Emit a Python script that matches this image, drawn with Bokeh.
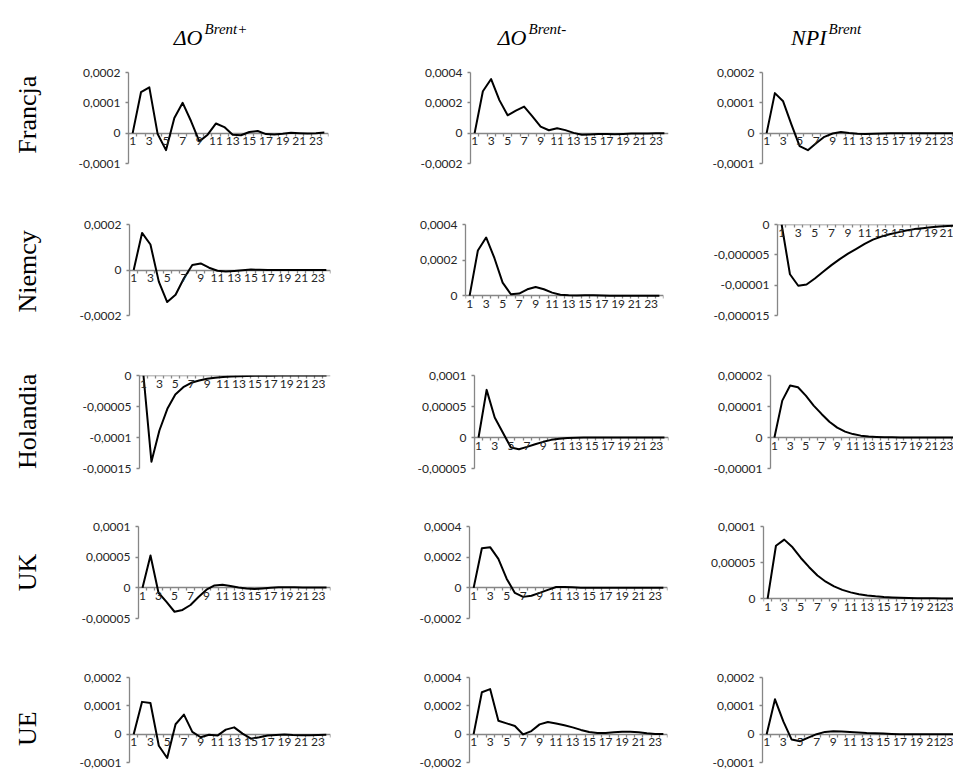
import math
from bokeh.plotting import figure
from bokeh.layouts import column, row
from bokeh.models import Range1d, LinearAxis, FixedTicker, CustomJSTickFormatter
from bokeh.embed import file_html
from bokeh.resources import INLINE
from bokeh.core.properties import value

# ---------------- data ----------------
periods = list(range(1, 25))
x_labels = [k for k in periods if k % 2 == 1]

countries = ["Francja", "Niemcy", "Holandia", "UK", "UE"]
shock_base = ["ΔO", "ΔO", "NPI"]
shock_sup = ["Brent+", "Brent-", "Brent"]

fr_dop = [0, 0.000135, 0.000151, -0.000003, -0.000056, 0.00005, 0.0001, 0.00004,
          -0.000027, -0.000005, 0.000032, 0.00002, -0.000005, -0.000007, 0.000004,
          0.000007, -0.000003, -0.000004, -0.000002, 0.000001, 0, -0.000001, 0, 0.000002]
fr_dom = [0, 0.000276, 0.000357, 0.000218, 0.000118, 0.000148, 0.000175, 0.000111,
          0.000043, 0.000019, 0.000032, 0.00002, 0.000002, -0.00001, -0.000008,
          -0.000005, -0.000006, -0.000007, -0.000005, -0.000003, -0.000002, -0.000002,
          -0.000001, -0.000001]
fr_npi = [0, 0.000132, 0.000105, 0.000029, -0.000043, -0.000056, -0.000033, -0.000012,
          -0.000001, 0.000004, 0.0000005, -0.000002, -0.000003, -0.000002, -0.000001,
          0, 0, 0, 0, 0, 0, 0, 0, 0]

de_dop = [0, 0.000163, 0.000112, -0.000051, -0.000141, -0.000109, -0.000036, 0.000022,
          0.000029, 0.00001, -0.000003, -0.000007, -0.000004, -0.000001, 0.000002,
          0.000001, 0, 0, 0, 0, 0, 0, 0, 0]
de_dom = [0, 0.000254, 0.000327, 0.000212, 0.000073, 0.000008, 0.000012, 0.000036,
          0.000049, 0.000036, 0.000017, 0.000005, 0.000002, 0.000001, 0.000002,
          0.000002, 0.000001, 0, 0, 0, 0, 0, 0, 0]
de_npi = [0, -0.0000082, -0.0000101, -0.0000099, -0.0000089, -0.0000078, -0.0000067,
          -0.0000057, -0.0000048, -0.000004, -0.0000032, -0.0000025, -0.000002,
          -0.0000016, -0.0000013, -0.000001, -0.00000076, -0.0000006, -0.00000045,
          -0.00000033, -0.00000025, -0.00000018, -0.00000013, -0.0000001]

nl_dop = [0, -0.000139, -0.0000887, -0.0000538, -0.0000306, -0.0000188, -0.0000118,
          -0.000008, -0.0000054, -0.0000038, -0.0000026, -0.0000018, -0.0000012,
          -0.0000008, -0.0000006, -0.0000004, -0.0000003, -0.0000002, -0.00000015,
          -0.0000001, -0.0000001, -0.00000005, -0.00000005, -0.00000005]
nl_dom = [0, 0.0000768, 0.0000324, 0.0000081, -0.0000162, -0.0000189, -0.0000151,
          -0.0000108, -0.000007, -0.0000038, -0.0000022, -0.000001, -0.0000005,
          -0.0000002, -0.0000001, 0, 0, 0, 0, 0, 0, 0, 0, 0]
nl_npi = [0, 0.0000119, 0.0000168, 0.0000162, 0.0000135, 0.0000103, 0.0000076,
          0.0000051, 0.0000032, 0.0000019, 0.0000011, 0.0000006, 0.0000003,
          0.0000002, 0.0000001, 0.0000001, 0, 0, 0, 0, 0, 0, 0, 0]

uk_dop = [0, 0.0000527, -0.000008, -0.000023, -0.000039, -0.000036, -0.000028,
          -0.000015, -0.000003, 0.000004, 0.000005, 0.000003, 0.0000005, -0.000001,
          -0.000002, -0.000001, 0, 0.000001, 0.000001, 0.000001, 0.0000005,
          0.0000005, 0.0000005, 0.0000005]
uk_dom = [0, 0.000258, 0.000265, 0.000189, 0.00006, -0.000033, -0.000059, -0.000052,
          -0.000033, -0.000013, 0.000005, 0.000005, 0.000003, 0.000001, 0, 0, 0, 0,
          0, 0, 0, 0, 0, 0]
uk_npi = [0, 0.0000733, 0.0000818, 0.0000712, 0.0000564, 0.0000436, 0.000032,
          0.0000235, 0.000017, 0.0000122, 0.0000087, 0.0000062, 0.0000045,
          0.0000032, 0.0000023, 0.0000017, 0.0000012, 0.0000009, 0.0000006,
          0.0000005, 0.0000004, 0.0000003, 0.0000002, 0.0000002]

ue_dop = [0, 0.000114, 0.00011, -0.000041, -0.000084, 0.000035, 0.000069, 0.000008,
          -0.000011, -0.000002, -0.000005, 0.000016, 0.000024, 0.000002, -0.000016,
          -0.000011, -0.000005, -0.000003, -0.000001, -0.000003, -0.000004,
          -0.000004, -0.000003, -0.000002]
ue_dom = [0, 0.000296, 0.000318, 0.000095, 0.000076, 0.000058, -0.000002, 0.000022,
          0.000069, 0.000086, 0.000076, 0.000063, 0.000048, 0.00003, 0.000015,
          0.000009, 0.000009, 0.000013, 0.000017, 0.000017, 0.000013, 0.000006,
          0.000002, 0.000001]
ue_npi = [0, 0.000123, 0.000045, -0.000019, -0.000025, -0.000012, 0, 0.000008,
          0.00001, 0.000009, 0.000008, 0.000006, 0.000004, 0.000003, 0.000002,
          0.000001, 0, 0, 0, 0, 0, 0, 0, 0]

# y tick values of each panel (row = country, column = shock)
ticks_fr_dop = [-0.0001, 0, 0.0001, 0.0002]
ticks_fr_dom = [-0.0002, 0, 0.0002, 0.0004]
ticks_fr_npi = [-0.0001, 0, 0.0001, 0.0002]
ticks_de_dop = [-0.0002, 0, 0.0002]
ticks_de_dom = [0, 0.0002, 0.0004]
ticks_de_npi = [-0.000015, -0.00001, -0.000005, 0]
ticks_nl_dop = [-0.00015, -0.0001, -0.00005, 0]
ticks_nl_dom = [-0.00005, 0, 0.00005, 0.0001]
ticks_nl_npi = [-0.00001, 0, 0.00001, 0.00002]
ticks_uk_dop = [-0.00005, 0, 0.00005, 0.0001]
ticks_uk_dom = [-0.0002, 0, 0.0002, 0.0004]
ticks_uk_npi = [0, 0.00005, 0.0001]
ticks_ue_dop = [-0.0001, 0, 0.0001, 0.0002]
ticks_ue_dom = [-0.0002, 0, 0.0002, 0.0004]
ticks_ue_npi = [-0.0001, 0, 0.0001, 0.0002]

series = [[fr_dop, fr_dom, fr_npi], [de_dop, de_dom, de_npi], [nl_dop, nl_dom, nl_npi],
          [uk_dop, uk_dom, uk_npi], [ue_dop, ue_dom, ue_npi]]
yticks = [[ticks_fr_dop, ticks_fr_dom, ticks_fr_npi], [ticks_de_dop, ticks_de_dom, ticks_de_npi],
          [ticks_nl_dop, ticks_nl_dom, ticks_nl_npi], [ticks_uk_dop, ticks_uk_dom, ticks_uk_npi],
          [ticks_ue_dop, ticks_ue_dom, ticks_ue_npi]]

# ---------------- layout (pixel coordinates of the page) ----------------
COL_EDGES = [0, 60, 400, 700, 953]
ROW_EDGES = [0, 50, 190, 345, 497, 645, 771]
# (axis x, px per period, frame top, frame bottom)
GEOM = {
    (0, 0): (128, 8.33, 72, 163), (0, 1): (470, 8.23, 72, 164), (0, 2): (762, 8.25, 72, 163),
    (1, 0): (129, 8.36, 223, 315), (1, 1): (465, 8.25, 224, 303), (1, 2): (777, 8.3, 224, 316),
    (2, 0): (139, 7.96, 375, 468), (2, 1): (474, 8.1, 375, 468), (2, 2): (770, 7.85, 375, 468),
    (3, 0): (138, 8.0, 526, 618), (3, 1): (469, 8.25, 526, 618), (3, 2): (763, 8.3, 526, 606),
    (4, 0): (129, 8.36, 677, 762), (4, 1): (469, 8.25, 677, 762), (4, 2): (762, 8.33, 677, 762),
}
LABEL_PAD = 22          # room for category labels under a frame whose bottom is 0
LABEL_CY = [115, 270, 420, 571, 721]
LABEL_CX = 27
TITLE_X = [202, 526, 826]
TITLE_Y, SUP_Y = 37, 28

GRAY = "#868686"
TXT = "#262626"
TICK_FONT = "Lato"
SERIF = "Liberation Serif"

y_fmt = CustomJSTickFormatter(code="return tick == 0 ? '0' : tick.toString().replace('.', ',');")
x_fmt = CustomJSTickFormatter(code="return String(tick);")
blank_fmt = CustomJSTickFormatter(code="return '';")


def base_fig(width, height, xr, yr, **kw):
    p = figure(width=width, height=height, x_range=xr, y_range=yr, title=None,
               x_axis_type=None, y_axis_type=None, toolbar_location=None,
               output_backend="svg", **kw)
    p.outline_line_color = None
    p.background_fill_color = None
    p.border_fill_color = None
    return p


def panel(r, c):
    ax_x, sp, ft, fb = GEOM[(r, c)]
    cl, cr = COL_EDGES[c + 1], COL_EDGES[c + 2]
    rt, rb = ROW_EDGES[r + 1], ROW_EDGES[r + 2]
    fr = min(ax_x + len(periods) * sp, cr)
    x0 = periods[0] - 0.5
    x1 = x0 + (fr - ax_x) / sp
    yt = yticks[r][c]
    y0, y1 = min(yt), max(yt)
    if y0 == 0:
        # extend the frame below 0 so that the category labels stay inside it
        y0 = -LABEL_PAD * (y1 - y0) / (fb - ft)
        fb = fb + LABEL_PAD
    p = base_fig(cr - cl, rb - rt, Range1d(x0, x1), Range1d(y0, y1),
                 min_border_left=int(round(ax_x - cl)), min_border_right=int(round(cr - fr)),
                 min_border_top=int(ft - rt), min_border_bottom=int(rb - fb))

    # value axis: at the left edge of the plot frame
    yax = LinearAxis(ticker=FixedTicker(ticks=yt), formatter=y_fmt, bounds=(min(yt), max(yt)),
                     axis_line_color=GRAY, axis_line_width=1.3,
                     major_tick_line_color=GRAY, major_tick_line_width=1.3,
                     major_tick_out=3, major_tick_in=0, minor_tick_line_color=None,
                     major_label_text_font=TICK_FONT, major_label_text_font_size="12px",
                     major_label_text_color=TXT, major_label_standoff=5)
    p.add_layout(yax, "left")

    # category axis: crosses the value axis at 0
    bounds = [k - 0.5 for k in periods] + [periods[-1] + 0.5]
    xtk = LinearAxis(ticker=FixedTicker(ticks=bounds), formatter=blank_fmt, fixed_location=0,
                     axis_line_color=GRAY, axis_line_width=1.3,
                     major_tick_line_color=GRAY, major_tick_line_width=1.3,
                     major_tick_out=3, major_tick_in=0, minor_tick_line_color=None,
                     level="underlay")
    p.add_layout(xtk, "below")
    xlb = LinearAxis(ticker=FixedTicker(ticks=x_labels), formatter=x_fmt, fixed_location=0,
                     axis_line_color=None, major_tick_line_color=None, minor_tick_line_color=None,
                     major_tick_out=0, major_tick_in=0,
                     major_label_text_font=TICK_FONT, major_label_text_font_size="12px",
                     major_label_text_color=TXT, major_label_standoff=4)
    p.add_layout(xlb, "below")

    p.line(periods, series[r][c], line_color="black", line_width=2, line_join="round")
    return p


def row_label(r):
    rt, rb = ROW_EDGES[r + 1], ROW_EDGES[r + 2]
    p = base_fig(COL_EDGES[1] - COL_EDGES[0], rb - rt,
                 Range1d(COL_EDGES[0], COL_EDGES[1]), Range1d(rb, rt), min_border=0)
    t = p.text(x=[LABEL_CX], y=[LABEL_CY[r]], text=[countries[r]], angle=math.pi / 2,
               text_align="center", text_baseline="middle", text_color="black",
               text_font=value(SERIF), text_font_size="26px")
    t.level = "overlay"
    return p


def header():
    p = base_fig(COL_EDGES[-1] - COL_EDGES[0], ROW_EDGES[1] - ROW_EDGES[0],
                 Range1d(COL_EDGES[0], COL_EDGES[-1]), Range1d(ROW_EDGES[1], ROW_EDGES[0]),
                 min_border=0)
    t1 = p.text(x=TITLE_X, y=[TITLE_Y] * 3, text=shock_base, text_align="right",
                text_baseline="alphabetic", text_font=value(SERIF), text_font_style="italic",
                text_font_size="22px", text_color="black")
    t2 = p.text(x=[t + 2 for t in TITLE_X], y=[SUP_Y] * 3, text=shock_sup, text_align="left",
                text_baseline="alphabetic", text_font=value(SERIF), text_font_style="italic",
                text_font_size="15px", text_color="black")
    t1.level = "overlay"
    t2.level = "overlay"
    return p


rows = [header()]
for r in range(5):
    rows.append(row([row_label(r)] + [panel(r, c) for c in range(3)], spacing=0))
layout = column(rows, spacing=0)

open("out.html", "w").write(file_html(layout, INLINE))
